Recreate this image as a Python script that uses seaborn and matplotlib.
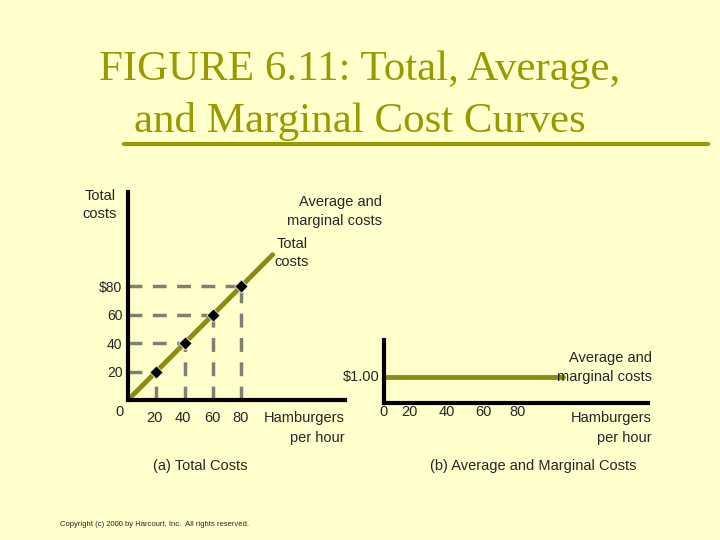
import matplotlib
matplotlib.use("Agg")
import matplotlib.pyplot as plt
import seaborn as sns

sns.set_theme(style="white")
plt.rcParams['font.family'] = ['Liberation Sans', 'DejaVu Sans']

quantities = [20, 40, 60, 80]
total_costs = [20, 40, 60, 80]
line_q = [0, 102]
line_tc = [0, 102]
avg_q = [-6.6, 94]
avg_cost = [1.0, 1.0]

BG = '#FFFFCC'
OLIVE = '#8C8C14'
DASH = '#808070'

fig = plt.figure(figsize=(7.2, 5.4), dpi=100, facecolor=BG)
W, H = 720, 540

def px(x, y):
    return x / W, 1 - y / H

def txt(x, y, s, **kw):
    fig.text(*px(x, y), s, **kw)

# title
txt(360, 70, 'FIGURE 6.11: Total, Average,', ha='center', va='center',
    fontsize=31, color='#999900', family='Liberation Serif')
txt(360, 122, 'and Marginal Cost Curves', ha='center', va='center',
    fontsize=31, color='#999900', family='Liberation Serif')
fig.add_artist(plt.Line2D([0.172, 0.983], [1 - 144 / H] * 2, color='#999900', lw=3))

# (a) total costs
ax1 = fig.add_axes([128 / W, 1 - 400 / H, 217 / W, 208 / H])
ax1.set_facecolor(BG)
ax1.set_xlim(0, 153)
ax1.set_ylim(0, 146)
for s in ['top', 'right']:
    ax1.spines[s].set_visible(False)
for s in ['left', 'bottom']:
    ax1.spines[s].set_color('black')
    ax1.spines[s].set_linewidth(3)
for q, c in zip(quantities, total_costs):
    ax1.plot([0, q], [c, c], ls=(0, (4, 3)), color=DASH, lw=2.5)
    ax1.plot([q, q], [0, c], ls=(0, (4, 3)), color=DASH, lw=2.5)
sns.lineplot(x=line_q, y=line_tc, ax=ax1, color=OLIVE, lw=3.5)
sns.scatterplot(x=quantities, y=total_costs, ax=ax1, marker='D', s=45,
                color='black', zorder=5)
ax1.set_xticks([])
ax1.set_yticks(total_costs)
ax1.set_yticklabels(['20', '40', '60', '$80'], fontsize=10)
ax1.tick_params(axis='y', length=0, pad=4)

txt(100, 205, 'Total\ncosts', ha='center', va='center', fontsize=10.5, linespacing=1.3)
txt(292, 253, 'Total\ncosts', ha='center', va='center', fontsize=10.5, linespacing=1.3)
txt(120, 412, '0', ha='center', va='center', fontsize=10.5)
for q, x in zip(quantities, [154, 183, 212, 241]):
    txt(x, 418, str(q), ha='center', va='center', fontsize=10.5)
txt(345, 418, 'Hamburgers', ha='right', va='center', fontsize=10.5)
txt(345, 438, 'per hour', ha='right', va='center', fontsize=10.5)
txt(200, 466, '(a) Total Costs', ha='center', va='center', fontsize=10.5)

# (b) average and marginal costs
ax2 = fig.add_axes([384 / W, 1 - 403 / H, 264 / W, 63 / H])
ax2.set_facecolor(BG)
ax2.set_xlim(-6.6, 141.7)
ax2.set_ylim(0, 2.4)
for s in ['top', 'right']:
    ax2.spines[s].set_visible(False)
for s in ['left', 'bottom']:
    ax2.spines[s].set_color('black')
    ax2.spines[s].set_linewidth(3)
ax2.spines['left'].set_position(('data', -6.6))
sns.lineplot(x=avg_q, y=avg_cost, ax=ax2, color=OLIVE, lw=3.5)
ax2.set_xticks(quantities)
ax2.set_xticklabels([])
ax2.tick_params(axis='x', direction='in', length=10, width=1.5, color='black')
ax2.set_yticks([])

txt(380, 377, '$1.00', ha='right', va='center', fontsize=10.5)
txt(382, 202, 'Average and', ha='right', va='center', fontsize=10.5)
txt(382, 221, 'marginal costs', ha='right', va='center', fontsize=10.5)
txt(652, 358, 'Average and', ha='right', va='center', fontsize=10.5)
txt(652, 377, 'marginal costs', ha='right', va='center', fontsize=10.5)
txt(383, 412, '0', ha='center', va='center', fontsize=10.5)
for q, x in zip(quantities, [409, 447, 483, 518]):
    txt(x, 412, str(q), ha='center', va='center', fontsize=10.5)
txt(652, 418, 'Hamburgers', ha='right', va='center', fontsize=10.5)
txt(652, 438, 'per hour', ha='right', va='center', fontsize=10.5)
txt(533, 466, '(b) Average and Marginal Costs', ha='center', va='center', fontsize=10.5)

txt(60, 524, 'Copyright (c) 2000 by Harcourt, Inc.  All rights reserved.',
    ha='left', va='center', fontsize=5.5)

fig.savefig('out.png', dpi=100, facecolor=BG)
